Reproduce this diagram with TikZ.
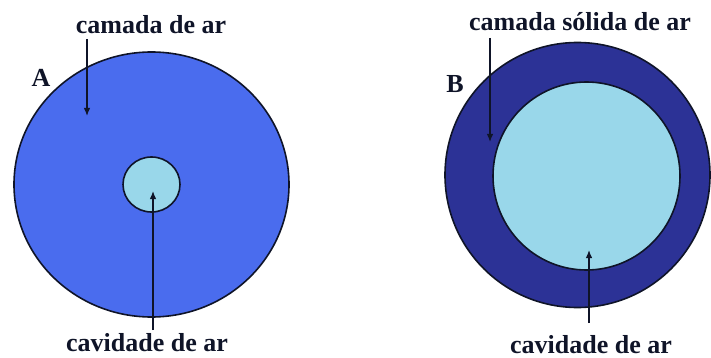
\documentclass[tikz,border=0pt]{standalone}
\usepackage{fontspec}
\setmainfont{Liberation Serif}
\usetikzlibrary{shapes.geometric,arrows.meta}
\definecolor{midblue}{RGB}{74,108,238}
\definecolor{darkblue}{RGB}{44,50,150}
\definecolor{lightblue}{RGB}{153,215,234}
\definecolor{inkc}{RGB}{15,20,40}
\tikzset{
  disc/.style={ellipse, draw=inkc, line width=1.6pt, inner sep=0pt, outer sep=0pt},
  lbl/.style={anchor=base, inner sep=0pt, font=\fontsize{26}{30}\selectfont\bfseries, text=inkc},
  pointer/.style={draw=inkc, line width=1.3pt, -{Latex[length=8pt,width=6.5pt]}}
}
\begin{document}
\begin{tikzpicture}[x=1pt,y=-1pt]
\useasboundingbox (0,0) rectangle (711,358);
% Figure A
\node[disc, fill=midblue, minimum width=275pt, minimum height=265pt] (outerA) at (151.5,184.5) {};
\node[disc, fill=lightblue, minimum width=57pt, minimum height=55pt] (innerA) at (151.5,184.5) {};
\node[lbl] (labA) at (41,87) {A};
\node[lbl] (topA) at (151,34) {camada de ar};
\node[lbl] (botA) at (147,351) {cavidade de ar};
\coordinate (a1s) at (87,39);
\coordinate (a1e) at (87,116);
\coordinate (a2s) at (153,330);
\coordinate (a2e) at (153,191);
\draw[pointer] (a1s) -- (a1e);
\draw[pointer] (a2s) -- (a2e);
% Figure B
\node[disc, fill=darkblue, minimum width=265pt, minimum height=265pt] (outerB) at (577.5,175) {};
\node[disc, fill=lightblue, minimum width=187pt, minimum height=188pt] (innerB) at (586.5,176) {};
\node[lbl] (labB) at (455,93) {B};
\node[lbl] (topB) at (580,31) {camada sólida de ar};
\node[lbl] (botB) at (591,353) {cavidade de ar};
\coordinate (b1s) at (490,38);
\coordinate (b1e) at (490,142);
\coordinate (b2s) at (589,323);
\coordinate (b2e) at (589,250);
\draw[pointer] (b1s) -- (b1e);
\draw[pointer] (b2s) -- (b2e);
\end{tikzpicture}
\end{document}
